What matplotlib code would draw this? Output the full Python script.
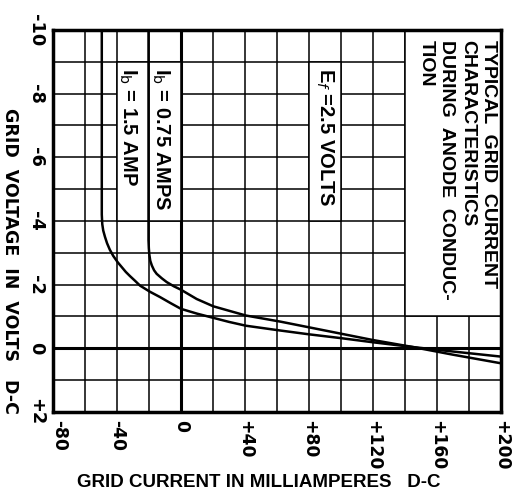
import numpy as np
import matplotlib
matplotlib.use('Agg')
import matplotlib.pyplot as plt
from matplotlib.patches import Rectangle
from matplotlib.transforms import ScaledTranslation
from matplotlib import font_manager

# grid current (mA) vs grid voltage (V)
ib15_ma = [-49.5, -49.5, -49.2, -48.6, -47.5, -46.2, -44.5, -42.3, -39.5, -37, -34.5, -31.9, -28.7, -25.6,
           -19.5, -13.1, -6.5, 0, 10, 20, 30, 40.6, 62, 80, 100, 120, 145, 170, 200]
ib15_v = [-10, -4.2, -3.9, -3.7, -3.5, -3.3, -3.1, -2.9, -2.7, -2.55, -2.4, -2.27, -2.12, -1.97,
          -1.78, -1.61, -1.42, -1.24, -1.09, -0.96, -0.83, -0.71, -0.56, -0.44, -0.32, -0.19, -0.04, 0.1, 0.26]

ib075_ma = [-20.3, -20.3, -20.1, -19.8, -19.2, -18.2, -16.8, -15.2, -12, -8.9, -4.5, 0, 9.8, 20.2,
            40.6, 62, 80, 100, 120, 145, 170, 200]
ib075_v = [-10, -3.4, -3.15, -2.95, -2.75, -2.6, -2.45, -2.34, -2.2, -2.08, -1.95, -1.84, -1.55, -1.32,
           -1.03, -0.84, -0.66, -0.46, -0.26, -0.04, 0.2, 0.47]

x_ticks = [-80, -40, 0, 40, 80, 120, 160, 200]
x_labels = ['-80', '-40', '0', '+40', '+80', '+120', '+160', '+200']
y_ticks = [-10, -8, -6, -4, -2, 0, 2]
y_labels = ['-10', '-8', '-6', '-4', '-2', '0', '+2']

names = {f.name for f in font_manager.fontManager.ttflist}
narrow = 'Liberation Sans Narrow' if 'Liberation Sans Narrow' in names else 'Liberation Sans'

fig = plt.figure(figsize=(5.17, 4.94), dpi=100)
ax = fig.add_axes([0.1025, 0.166, 0.8665, 0.7733])

# hand drawn style grid
for x in range(-80, 201, 20):
    ax.plot([x, x], [-10, 2], color='black', lw=2.2 if x == 0 else 1.1, zorder=1)
for y in range(-10, 3):
    ax.plot([-80, 200], [y, y], color='black', lw=2.2 if y == 0 else 1.1, zorder=1)

# white boxes behind the labels
for (bx, by, bw, bh) in [(-40, -9, 20, 5), (-20, -9, 20, 5), (80, -9, 20, 5), (140, -10, 60, 9)]:
    ax.add_patch(Rectangle((bx, by), bw, bh, facecolor='white', edgecolor='black', lw=1.1, zorder=2))

ax.plot(ib15_ma, ib15_v, color='black', lw=1.8, zorder=3)
ax.plot(ib075_ma, ib075_v, color='black', lw=1.8, zorder=3)

ax.set_xlim(-80, 200)
ax.set_ylim(2, -10)
for s in ax.spines.values():
    s.set_linewidth(2.5)

ax.set_xticks(x_ticks)
ax.set_xticklabels(x_labels, rotation=-90, fontsize=12.3, fontweight='bold', family='DejaVu Sans')
ax.set_yticks(y_ticks)
ax.set_yticklabels(y_labels, rotation=-90, va='center', fontsize=12.8, fontweight='bold', family='DejaVu Sans')
ax.tick_params(length=0, pad=5.8)
# first label sits a little right of the corner
lbl = ax.get_xticklabels()[0]
lbl.set_transform(lbl.get_transform() + ScaledTranslation(0.06, 0, fig.dpi_scale_trans))

ax.text(-33.4, -8.8, 'I$_\\mathrm{b}$ = 1.5 AMP', rotation=-90, ha='center', va='top',
        fontsize=14.5, fontweight='bold', family=narrow, zorder=4)
ax.text(-12.5, -8.8, 'I$_\\mathrm{b}$ = 0.75 AMPS', rotation=-90, ha='center', va='top',
        fontsize=14.5, fontweight='bold', family=narrow, zorder=4)
ax.text(90, -8.8, 'E$_\\mathit{f}$ =2.5 VOLTS', rotation=-90, ha='center', va='top',
        fontsize=14.5, fontweight='bold', family=narrow, zorder=4)
ax.text(197.5, -9.69, 'TYPICAL  GRID  CURRENT\nCHARACTERISTICS\nDURING  ANODE  CONDUC-\nTION',
        rotation=-90, ha='right', va='top', multialignment='left', linespacing=1.3,
        fontsize=14, fontweight='bold', family=narrow, zorder=4)

fig.text(10 / 517, 1 - 261 / 494, 'GRID  VOLTAGE  IN  VOLTS   D-C', rotation=-90, ha='center', va='center',
         fontsize=12.5, fontweight='bold', family='DejaVu Sans')
fig.text(259 / 517, 1 - 482 / 494, 'GRID CURRENT IN MILLIAMPERES   D-C', ha='center', va='center',
         fontsize=13.5, fontweight='bold', family=narrow)

fig.savefig('out.png', dpi=100)
